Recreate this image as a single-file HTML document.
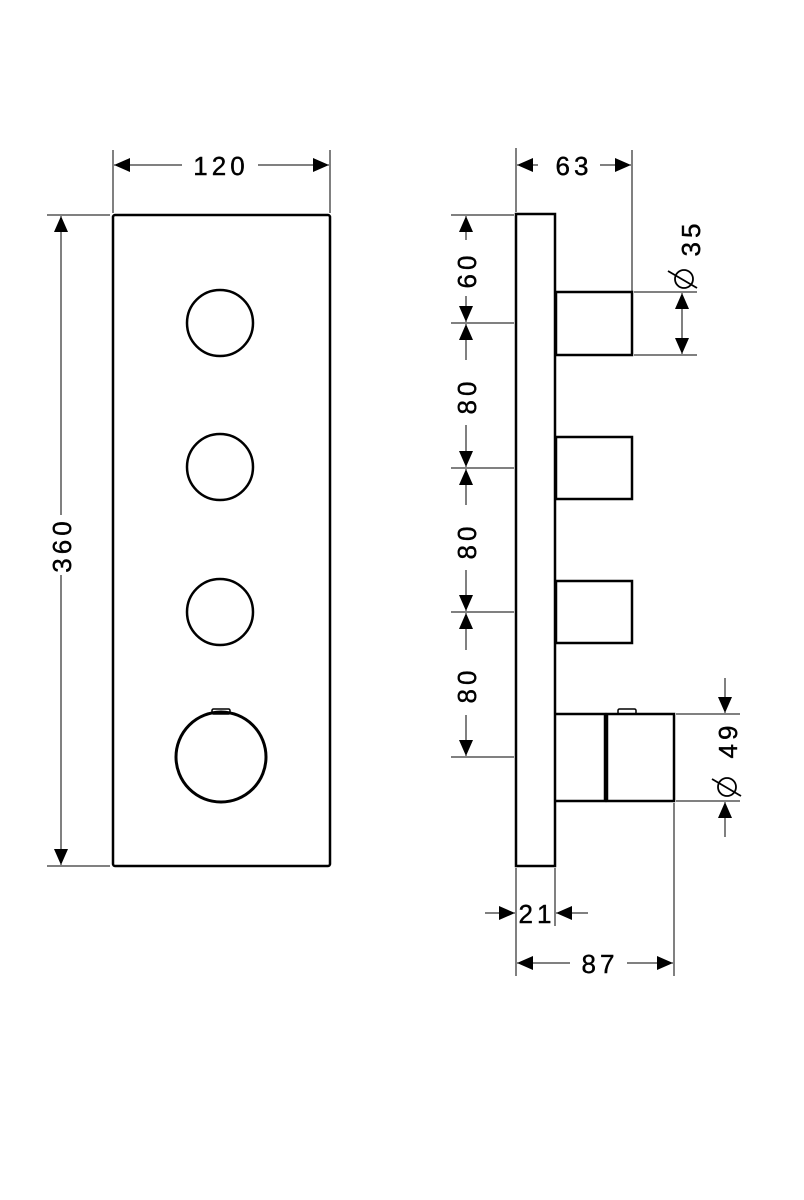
<!DOCTYPE html>
<html><head><meta charset="utf-8"><style>
html,body{margin:0;padding:0;background:#fff;}
svg{display:block;}
text{font-family:"Liberation Sans",sans-serif;font-size:26px;fill:#000;stroke:#000;stroke-width:0.4;letter-spacing:4px;}
</style></head><body>
<svg width="804" height="1200" viewBox="0 0 804 1200" xmlns="http://www.w3.org/2000/svg">
<defs>
<marker id="a" viewBox="0 0 16 14" refX="16" refY="7" markerWidth="16" markerHeight="14" markerUnits="userSpaceOnUse" orient="auto"><path d="M0,0L16,7L0,14z" fill="#000"/></marker>
</defs>
<g stroke="#000" fill="none">
<rect x="113" y="215" width="217" height="651" rx="2" stroke-width="2.5"/>
<circle cx="220" cy="323" r="33" stroke-width="2.5"/>
<circle cx="220" cy="467" r="33" stroke-width="2.5"/>
<circle cx="220" cy="612" r="33" stroke-width="2.5"/>
<circle cx="221" cy="757" r="45" stroke-width="3"/>
<rect x="212" y="709" width="18" height="5" rx="1.5" stroke-width="1.5"/>
<g stroke-width="1">
<line x1="113" y1="150" x2="113" y2="213"/>
<line x1="330" y1="150" x2="330" y2="213"/>
<line x1="47" y1="215" x2="110" y2="215"/>
<line x1="47" y1="866" x2="110" y2="866"/>
<line x1="182" y1="165" x2="114" y2="165" marker-end="url(#a)"/>
<line x1="258" y1="165" x2="329" y2="165" marker-end="url(#a)"/>
<line x1="61" y1="515" x2="61" y2="216" marker-end="url(#a)"/>
<line x1="61" y1="575" x2="61" y2="865" marker-end="url(#a)"/>
</g>
<rect x="516" y="214" width="39" height="652" stroke-width="2.5"/>
<rect x="556" y="292" width="76" height="63" stroke-width="2.5"/>
<rect x="556" y="437" width="76" height="62" stroke-width="2.5"/>
<rect x="556" y="581" width="76" height="62" stroke-width="2.5"/>
<path d="M556,714H605V801H556" stroke-width="2.5"/>
<rect x="607" y="714" width="67" height="87" stroke-width="2.5"/>
<rect x="618" y="709" width="18" height="5" rx="1.5" stroke-width="1.5"/>
<g stroke-width="1">
<line x1="516" y1="148" x2="516" y2="212"/>
<line x1="632" y1="150" x2="632" y2="291"/>
<line x1="538" y1="165" x2="517" y2="165" marker-end="url(#a)"/>
<line x1="600" y1="165" x2="631" y2="165" marker-end="url(#a)"/>
<line x1="451" y1="215" x2="514" y2="215"/>
<line x1="451" y1="323" x2="514" y2="323"/>
<line x1="451" y1="468" x2="514" y2="468"/>
<line x1="451" y1="612" x2="514" y2="612"/>
<line x1="451" y1="757" x2="514" y2="757"/>
<line x1="466" y1="240" x2="466" y2="216" marker-end="url(#a)"/>
<line x1="466" y1="296" x2="466" y2="322" marker-end="url(#a)"/>
<line x1="466" y1="360" x2="466" y2="324" marker-end="url(#a)"/>
<line x1="466" y1="425" x2="466" y2="467" marker-end="url(#a)"/>
<line x1="466" y1="505" x2="466" y2="469" marker-end="url(#a)"/>
<line x1="466" y1="570" x2="466" y2="611" marker-end="url(#a)"/>
<line x1="466" y1="650" x2="466" y2="613" marker-end="url(#a)"/>
<line x1="466" y1="715" x2="466" y2="756" marker-end="url(#a)"/>
<line x1="634" y1="292" x2="697" y2="292"/>
<line x1="634" y1="355" x2="697" y2="355"/>
<line x1="682" y1="322" x2="682" y2="293" marker-end="url(#a)"/>
<line x1="682" y1="322" x2="682" y2="354" marker-end="url(#a)"/>
<line x1="676" y1="714" x2="740" y2="714"/>
<line x1="676" y1="801" x2="740" y2="801"/>
<line x1="725" y1="678" x2="725" y2="713" marker-end="url(#a)"/>
<line x1="725" y1="837" x2="725" y2="802" marker-end="url(#a)"/>
<line x1="516" y1="868" x2="516" y2="976"/>
<line x1="555" y1="868" x2="555" y2="926"/>
<line x1="674" y1="803" x2="674" y2="976"/>
<line x1="485" y1="913" x2="515" y2="913" marker-end="url(#a)"/>
<line x1="588" y1="913" x2="556" y2="913" marker-end="url(#a)"/>
<line x1="570" y1="963" x2="517" y2="963" marker-end="url(#a)"/>
<line x1="627" y1="963" x2="673" y2="963" marker-end="url(#a)"/>
</g>
<circle cx="684" cy="279" r="9" stroke-width="1.8"/>
<line x1="668" y1="271" x2="697" y2="288" stroke-width="1.8"/>
<circle cx="727" cy="787" r="9" stroke-width="1.8"/>
<line x1="712" y1="779" x2="741" y2="796" stroke-width="1.8"/>
</g>
<text x="221" y="175" text-anchor="middle">120</text>
<text x="574" y="175" text-anchor="middle">63</text>
<text x="537" y="923" text-anchor="middle" letter-spacing="0">21</text>
<text x="600" y="973" text-anchor="middle">87</text>
<text transform="translate(71,545) rotate(-90)" text-anchor="middle">360</text>
<text transform="translate(476,270) rotate(-90)" text-anchor="middle">60</text>
<text transform="translate(476,396) rotate(-90)" text-anchor="middle">80</text>
<text transform="translate(476,541) rotate(-90)" text-anchor="middle">80</text>
<text transform="translate(476,685) rotate(-90)" text-anchor="middle">80</text>
<text transform="translate(700,238) rotate(-90)" text-anchor="middle">35</text>
<text transform="translate(737,740) rotate(-90)" text-anchor="middle">49</text>
</svg>
</body></html>
